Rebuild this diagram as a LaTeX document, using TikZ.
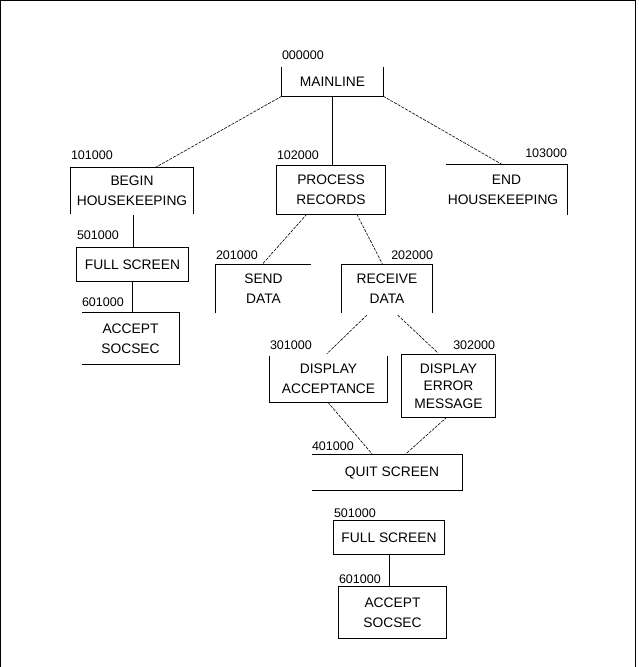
\documentclass[tikz,border=0pt]{standalone}
\usepackage{fontspec}
\setmainfont{Liberation Sans}
\usetikzlibrary{calc}
\begin{document}
\begin{tikzpicture}[x=1pt,y=-1pt,
  box/.style={inner sep=0pt, align=center, font=\fontsize{13.8}{20}\selectfont},
  edge/.style={line width=0.8pt},
  diag/.style={line width=0.6pt, dash pattern=on 3pt off 1.2pt},
  lbl/.style={inner sep=0pt, font=\fontsize{12.5}{14}\selectfont},
  frame/.style={line width=1pt}
]
\useasboundingbox (0,0) rectangle (638,667);
\draw[frame] (0.5,667) -- (0.5,0.5) -- (635.5,0.5) -- (635.5,667);

% boxes
\node[box, minimum width=101pt, minimum height=29pt] (main) at (332.5,81.5) {MAINLINE};
\node[box, minimum width=122pt, minimum height=46pt] (beg) at (132,191) {BEGIN\\HOUSEKEEPING};
\node[box, minimum width=108pt, minimum height=48pt] (proc) at (331,190) {PROCESS\\RECORDS};
\node[box, minimum width=121pt, minimum height=50pt] (endh) at (506.5,189.5) {END\\HOUSEKEEPING\hspace*{7pt}};
\node[box, minimum width=111pt, minimum height=33pt] (full1) at (132.5,264.5) {FULL SCREEN};
\node[box, minimum width=97pt, minimum height=51pt] (acc1) at (130.5,338.5) {ACCEPT\\SOCSEC};
\node[box, minimum width=95pt, minimum height=48pt] (send) at (263.5,289) {SEND\\DATA};
\node[box, minimum width=90pt, minimum height=48pt] (recv) at (387,289) {RECEIVE\\DATA};
\node[box, minimum width=117pt, minimum height=46pt] (dacc) at (328.5,379) {DISPLAY\\ACCEPTANCE};
\node[box, minimum width=93pt, minimum height=62pt, font=\fontsize{13.8}{17.5}\selectfont] (derr) at (448.5,386) {DISPLAY\\ERROR\\MESSAGE};
\node[box, minimum width=150pt, minimum height=35pt] (quit) at (387,472.5) {\hspace*{10pt}QUIT SCREEN};
\node[box, minimum width=110pt, minimum height=33pt] (full2) at (389,537.5) {FULL SCREEN};
\node[box, minimum width=107pt, minimum height=51pt] (acc2) at (392.5,612.5) {ACCEPT\\SOCSEC};

% box outlines (partial as in the reference)
\draw[edge] (main.north west) -- (main.south west) -- (main.south east) -- (main.north east);
\draw[edge] (beg.south west) -- (beg.north west) -- (beg.north east) -- (beg.south east);
\draw[edge] (proc.north west) rectangle (proc.south east);
\draw[edge] (endh.north west) -- (endh.north east) -- (endh.south east);
\draw[edge] (full1.north west) rectangle (full1.south east);
\draw[edge] (acc1.north west) -- (acc1.north east) -- (acc1.south east) -- (acc1.south west);
\draw[edge] (send.south west) -- (send.north west) -- (send.north east);
\draw[edge] (recv.south west) -- (recv.north west) -- (recv.north east) -- (recv.south east);
\draw[edge] (dacc.north west) -- (dacc.south west) -- (dacc.south east) -- (dacc.north east);
\draw[edge] (derr.north west) rectangle (derr.south east);
\draw[edge] (quit.north west) -- (quit.north east) -- (quit.south east) -- (quit.south west);
\draw[edge] (full2.north west) rectangle (full2.south east);
\draw[edge] (acc2.north west) rectangle (acc2.south east);

% labels
\node[lbl, anchor=west] (lmain) at ($(main.north west)+(0,-12)$) {000000};
\node[lbl, anchor=west] (lbeg) at ($(beg.north west)+(0,-13)$) {101000};
\node[lbl, anchor=west] (lproc) at ($(proc.north west)+(0,-11)$) {102000};
\node[lbl, anchor=east] (lendh) at ($(endh.north east)+(0,-11)$) {103000};
\node[lbl, anchor=west] (lfull1) at ($(full1.north west)+(0,-13)$) {501000};
\node[lbl, anchor=west] (lacc1) at ($(acc1.north west)+(0,-11)$) {601000};
\node[lbl, anchor=west] (lsend) at ($(send.north west)+(0,-10)$) {201000};
\node[lbl, anchor=east] (lrecv) at ($(recv.north east)+(1,-10)$) {202000};
\node[lbl, anchor=west] (ldacc) at ($(dacc.north west)+(0,-11)$) {301000};
\node[lbl, anchor=east] (lderr) at ($(derr.north east)+(0,-10)$) {302000};
\node[lbl, anchor=west] (lquit) at ($(quit.north west)+(0,-9)$) {401000};
\node[lbl, anchor=west] (lfull2) at ($(full2.north west)+(0,-8)$) {501000};
\node[lbl, anchor=west] (lacc2) at ($(acc2.north west)+(0,-8)$) {601000};

% connectors
\draw[edge] (main.south) -- (main.south |- proc.north);
\draw[diag] (main.south west) -- ($(beg.north west)+(84,0)$);
\draw[diag] (main.south east) -- ($(endh.north west)+(56,0)$);
\draw[edge] ($(beg.south)+(1,1)$) -- ($(beg.south |- full1.north)+(1,0)$);
\draw[edge] (full1.south) -- (full1.south |- acc1.north);
\draw[diag] ($(proc.south west)+(30,0)$) -- ($(send.north west)+(46,0)$);
\draw[diag] ($(proc.south west)+(80,0)$) -- ($(recv.north west)+(41,0)$);
\draw[diag] ($(recv.south west)+(25,2)$) -- ($(dacc.north west)+(57,-2)$);
\draw[diag] ($(recv.south west)+(56,2)$) -- ($(derr.north west)+(36,-2)$);
\draw[diag] ($(dacc.south west)+(58,0)$) -- ($(quit.north west)+(61,0)$);
\draw[diag] ($(derr.south west)+(45,0)$) -- ($(quit.north west)+(93,0)$);
\draw[edge] (full2.south) -- (full2.south |- acc2.north);
\end{tikzpicture}
\end{document}
